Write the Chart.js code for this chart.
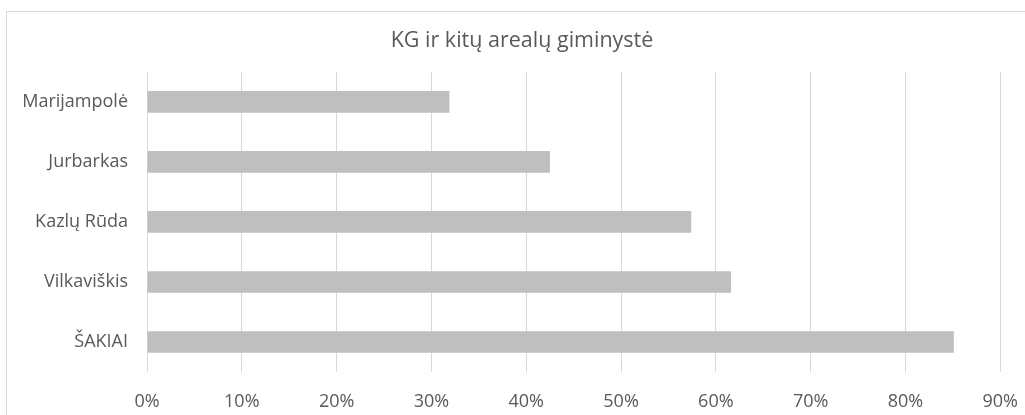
<!DOCTYPE html>
<html lang="lt">
<head>
<meta charset="utf-8">
<title>KG ir kitų arealų giminystė</title>
<script src="https://cdn.jsdelivr.net/npm/chart.js@4.4.1/dist/chart.umd.min.js"></script>
<style>
    html, body { margin: 0; padding: 0; background: #fff; overflow: hidden; }
    .moldura {
        position: absolute;
        left: 6px;
        top: 11px;
        width: 1030px;
        height: 410px;
        border-left: 1px solid #d9d9d9;
        border-top: 1px solid #d9d9d9;
    }
</style>
</head>
<body>
<div class="moldura">
    <canvas id="graficoGiminyste"></canvas>
</div>
<script>
const categorias = ['Marijampolė', 'Jurbarkas', 'Kazlų Rūda', 'Vilkaviškis', 'ŠAKIAI'];
const valores = [31.9, 42.5, 57.4, 61.6, 85.1];
const rotulosEixo = ['0%', '10%', '20%', '30%', '40%', '50%', '60%', '70%', '80%', '90%'];

const corTexto = '#595959';
const corGrade = '#d9d9d9';
const fonte = '"Open Sans", sans-serif';

const ctx = document.getElementById('graficoGiminyste').getContext('2d');
const grafico = new Chart(ctx, {
    type: 'bar',
    data: {
        labels: categorias,
        datasets: [{
            data: valores,
            backgroundColor: '#bfbfbf',
            borderWidth: 0,
            barPercentage: 0.36,
            categoryPercentage: 1
        }]
    },
    options: {
        indexAxis: 'y',
        responsive: true,
        maintainAspectRatio: false,
        animation: false,
        layout: {
            padding: 0
        },
        plugins: {
            legend: { display: false },
            tooltip: { enabled: false },
            title: {
                display: true,
                text: 'KG ir kitų arealų giminystė',
                color: corTexto,
                font: { family: fonte, size: 21.5, weight: 'normal' },
                padding: { top: 16, bottom: 18 }
            }
        },
        scales: {
            x: {
                min: 0,
                max: 90,
                ticks: {
                    stepSize: 10,
                    color: corTexto,
                    font: { family: fonte, size: 18 },
                    padding: 19,
                    callback: (valor, i) => rotulosEixo[i]
                },
                grid: { color: corGrade, lineWidth: 1, drawTicks: false },
                border: { display: false },
                afterFit: (escala) => { escala.height = 50; }
            },
            y: {
                ticks: {
                    color: corTexto,
                    font: { family: fonte, size: 18 },
                    padding: 11
                },
                grid: { display: false },
                border: { display: false },
                afterFit: (escala) => { escala.width = 140; }
            },
            // eixo vazio na direita: reserva espaco e deixa o titulo centrado na moldura
            y2: {
                type: 'linear',
                position: 'right',
                ticks: { display: false },
                grid: { display: false },
                border: { display: false },
                afterFit: (escala) => { escala.width = 36; }
            }
        }
    }
});
</script>
</body>
</html>
